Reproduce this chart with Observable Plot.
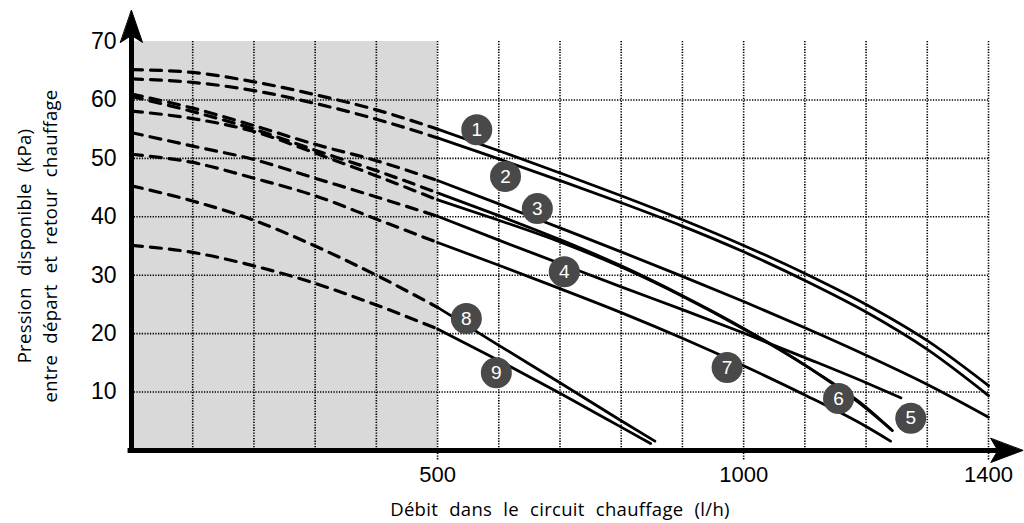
<!DOCTYPE html>
<html><head><meta charset="utf-8">
<script src="https://cdn.jsdelivr.net/npm/d3@7"></script>
<script src="https://cdn.jsdelivr.net/npm/@observablehq/plot@0.6"></script>
<style>
html,body{margin:0;padding:0;background:#fff;}
#chart svg{display:block;}
.title-text{word-spacing:6px;letter-spacing:0.3px;}
</style>
</head><body><div id="chart"></div>
<script>
// ---- data ----
const curveIds = ["1","2","3","4","5","6","7","8","9"];
// extrapolated (dashed) part, shared flows (l/h)
const flowDashed = [0, 100, 200, 300, 400, 500];
const dashed1 = [65.2, 64.7, 63.1, 60.9, 58.3, 55.0];
const dashed2 = [63.6, 63.0, 61.6, 59.4, 56.7, 53.5];
const dashed3 = [61.0, 58.6, 55.6, 52.4, 49.6, 46.2];
const dashed4 = [54.4, 52.1, 49.8, 46.6, 43.4, 40.1];
const dashed5 = [60.6, 58.0, 55.0, 51.4, 47.9, 44.1];
const dashed6 = [58.1, 56.8, 54.6, 50.9, 47.0, 42.9];
const dashed7 = [50.7, 49.3, 46.6, 43.6, 39.6, 35.6];
const dashed8 = [45.3, 42.7, 39.4, 35.0, 30.0, 24.5];
const dashed9 = [35.1, 33.9, 31.6, 28.6, 24.9, 20.8];
// measured (solid) part
const flowSolid1 = [500, 600, 700, 800, 900, 1000, 1100, 1200, 1300, 1400];
const solid1 = [55.0, 51.3, 47.5, 43.6, 39.5, 35.1, 30.3, 25.0, 18.8, 11.1];
const flowSolid2 = [500, 600, 700, 800, 900, 1000, 1100, 1200, 1300, 1400];
const solid2 = [53.5, 49.9, 46.2, 42.4, 38.4, 34.0, 29.1, 23.7, 17.3, 9.4];
const flowSolid3 = [500, 600, 700, 800, 900, 1000, 1100, 1200, 1300, 1400];
const solid3 = [46.2, 42.2, 38.1, 34.0, 29.8, 25.5, 21.0, 16.3, 11.3, 5.7];
const flowSolid4 = [500, 600, 700, 800, 900, 1000, 1100, 1200, 1257];
const solid4 = [40.1, 36.0, 32.0, 28.0, 24.1, 20.1, 15.9, 11.6, 9.0];
const flowSolid5 = [500, 600, 700, 800, 900, 1000, 1100, 1200, 1243];
const solid5 = [44.1, 40.2, 36.1, 31.6, 26.5, 20.9, 14.6, 7.2, 3.4];
const flowSolid6 = [500, 600, 700, 800, 900, 1000, 1100, 1200, 1240];
const solid6 = [42.9, 39.4, 35.7, 31.4, 26.4, 20.8, 14.6, 7.4, 3.7];
const flowSolid7 = [500, 600, 700, 800, 900, 1000, 1100, 1200, 1240];
const solid7 = [35.6, 31.7, 27.7, 23.6, 19.2, 14.5, 9.5, 4.1, 1.6];
const flowSolid8 = [500, 600, 700, 800, 855];
const solid8 = [24.5, 18.0, 11.6, 5.1, 1.6];
const flowSolid9 = [500, 600, 700, 800, 848];
const solid9 = [20.8, 15.4, 9.8, 4.0, 1.2];
// curve number badges
const badgeFlow = [564, 611, 663, 707, 1273, 1155, 973, 547, 596];
const badgePressure = [54.9, 46.9, 41.4, 30.6, 5.5, 8.9, 14.2, 22.6, 13.3];
// axes
const xTicks = [500, 1000, 1400];
const yTicks = [10, 20, 30, 40, 50, 60, 70];
const xGrid = [100, 200, 300, 400, 500, 600, 700, 800, 900, 1000, 1100, 1200, 1300, 1400];
const yGrid = [10, 20, 30, 40, 50, 60];
const extrapolatedZone = [{from: 0, to: 500}];
const xTitle = "Débit dans le circuit chauffage (l/h)";
const yTitle = "Pression disponible (kPa)\nentre départ et retour chauffage";

// ---- build tables ----
const dashedSeries = [dashed1, dashed2, dashed3, dashed4, dashed5, dashed6, dashed7, dashed8, dashed9];
const solidFlows = [flowSolid1, flowSolid2, flowSolid3, flowSolid4, flowSolid5, flowSolid6, flowSolid7, flowSolid8, flowSolid9];
const solidSeries = [solid1, solid2, solid3, solid4, solid5, solid6, solid7, solid8, solid9];
const dashedRows = [], solidRows = [];
curveIds.forEach((id, i) => {
  flowDashed.forEach((f, j) => dashedRows.push({id, flow: f, p: dashedSeries[i][j]}));
  solidFlows[i].forEach((f, j) => solidRows.push({id, flow: f, p: solidSeries[i][j]}));
});
const badges = curveIds.map((id, i) => ({id, flow: badgeFlow[i], p: badgePressure[i]}));

const xMax = d3.max(xTicks), yMax = d3.max(yTicks);
const xArrowTip = xMax * 1.04, yArrowTip = yMax * 1.076;

const arrowHead = {
  draw(ctx, l, r) {
    ctx.moveTo(0, -l);
    ctx.lineTo(r, 0);
    ctx.lineTo(0, -l * 0.22);
    ctx.lineTo(-r, 0);
    ctx.closePath();
  }
};

const dotted = {stroke: "black", strokeWidth: 1.6, strokeDasharray: "1.3,1.4"};

const chart = Plot.plot({
  width: 1024,
  height: 523,
  marginLeft: 131,
  marginRight: 36,
  marginTop: 41,
  marginBottom: 73,
  x: {domain: [0, xMax]},
  y: {domain: [0, yMax]},
  style: {background: "white", overflow: "visible"},
  marks: [
    Plot.rect(extrapolatedZone, {x1: "from", x2: "to", y1: 0, y2: yMax, fill: "#d9d9d9"}),
    Plot.ruleY(yGrid, {x1: 0, x2: xMax, ...dotted}),
    Plot.ruleX(xGrid, {y1: 0, y2: yMax, ...dotted}),
    Plot.line(dashedRows, {x: "flow", y: "p", z: "id", stroke: "black", strokeWidth: 3.2,
      strokeDasharray: "11,8", curve: "monotone-x"}),
    Plot.line(solidRows, {x: "flow", y: "p", z: "id", stroke: "black", strokeWidth: 2.8,
      curve: "monotone-x"}),
    // axis lines with arrowheads
    Plot.ruleY([0], {x1: -xMax * 0.004, x2: xArrowTip - 20, stroke: "black", strokeWidth: 5}),
    Plot.ruleX([0], {y1: -0.3, y2: yArrowTip - 2, stroke: "black", strokeWidth: 5}),
    Plot.vector([{x: xArrowTip, y: 0}], {x: "x", y: "y", length: 32, r: 12, rotate: 90, anchor: "end",
      shape: arrowHead, fill: "black", stroke: "black", strokeWidth: 1}),
    Plot.vector([{x: 0, y: yArrowTip}], {x: "x", y: "y", length: 32, r: 11, rotate: 0, anchor: "end",
      shape: arrowHead, fill: "black", stroke: "black", strokeWidth: 1}),
    Plot.axisX({ticks: xTicks, tickSize: 10, tickPadding: 6, label: null, fontSize: 22,
      tickFormat: (d) => String(d),
      fontFamily: "Liberation Sans, Arial, sans-serif", ...dotted}),
    Plot.axisY({ticks: yTicks, tickSize: 0, tickPadding: 15, label: null, fontSize: 23,
      fontFamily: "Liberation Sans, Arial, sans-serif"}),
    // badges
    Plot.dot(badges, {x: "flow", y: "p", r: 15.5, fill: "#494949", stroke: "none"}),
    Plot.text(badges, {x: "flow", y: "p", text: "id", fill: "white", fontSize: 19,
      fontFamily: "Liberation Sans, Arial, sans-serif"}),
    // titles
    Plot.text([xTitle], {frameAnchor: "bottom", dy: 60, fontSize: 18.5, fill: "black",
      textAnchor: "middle", className: "title-text",
      fontFamily: "Open Sans, sans-serif", lineAnchor: "middle"}),
    Plot.text([yTitle], {frameAnchor: "left", dx: -96, rotate: -90, fontSize: 18.5, fill: "black",
      textAnchor: "middle", className: "title-text",
      lineHeight: 1.45, fontFamily: "Open Sans, sans-serif", lineAnchor: "middle"})
  ]
});
document.getElementById("chart").appendChild(chart);
</script>
</body></html>
